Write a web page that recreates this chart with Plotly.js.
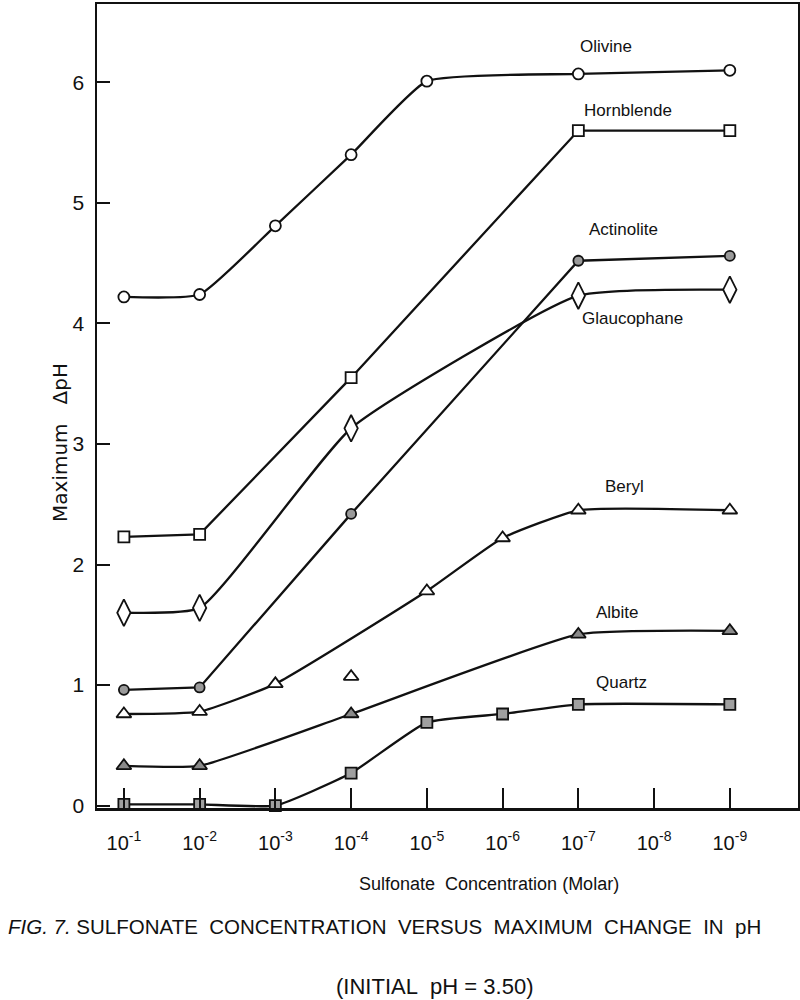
<!DOCTYPE html>
<html>
<head>
<meta charset="utf-8">
<script src="https://cdn.plot.ly/plotly-3.0.1.min.js"></script>
<style>
  html, body { margin: 0; padding: 0; background: #ffffff; }
  #chart { width: 800px; height: 1000px; }
</style>
</head>
<body>
<div id="chart"></div>
<script>
// Sulfonate concentration exponent (10^-n), n = 1..9
const concExp = [1, 2, 3, 4, 5, 6, 7, 8, 9];
const concLabels = ["10<sup>-1</sup>", "10<sup>-2</sup>", "10<sup>-3</sup>", "10<sup>-4</sup>", "10<sup>-5</sup>",
                    "10<sup>-6</sup>", "10<sup>-7</sup>", "10<sup>-8</sup>", "10<sup>-9</sup>"];

// Maximum delta pH per mineral
const olivineX = [1, 2, 3, 4, 5, 7, 9];
const olivineY = [4.22, 4.24, 4.81, 5.40, 6.01, 6.07, 6.10];

const hornblendeX = [1, 2, 4, 7, 9];
const hornblendeY = [2.23, 2.25, 3.55, 5.60, 5.60];

const actinoliteX = [1, 2, 4, 7, 9];
const actinoliteY = [0.96, 0.98, 2.42, 4.52, 4.56];

const glaucophaneX = [1, 2, 4, 7, 9];
const glaucophaneY = [1.60, 1.64, 3.13, 4.23, 4.28];

const berylX = [1, 2, 3, 5, 6, 7, 9];
const berylY = [0.76, 0.78, 1.01, 1.78, 2.22, 2.45, 2.45];
const berylOffX = [4];
const berylOffY = [1.07];

const albiteX = [1, 2, 4, 7, 9];
const albiteY = [0.33, 0.33, 0.76, 1.42, 1.45];

const quartzX = [1, 2, 3, 4, 5, 6, 7, 9];
const quartzY = [0.01, 0.01, 0.00, 0.27, 0.69, 0.76, 0.84, 0.84];

const yTicks = [0, 1, 2, 3, 4, 5, 6];

const FONT = "'Liberation Sans', Arial, sans-serif";

function series(name, xs, ys, symbol, size, fill, shape) {
  return {
    type: 'scatter', mode: 'lines+markers', name: name,
    x: xs, y: ys,
    line: { color: '#111', width: 2.3, shape: shape || 'spline', smoothing: 0.45 },
    marker: { symbol: symbol, size: size, color: fill, line: { color: '#111', width: 1.8 } },
    cliponaxis: false
  };
}

const traces = [
  series('Olivine', olivineX, olivineY, 'circle', 11, '#ffffff'),
  series('Hornblende', hornblendeX, hornblendeY, 'square', 11, '#ffffff', 'linear'),
  series('Actinolite', actinoliteX, actinoliteY, 'circle', 10, '#9a9a9a', 'linear'),
  series('Glaucophane', glaucophaneX, glaucophaneY, 'diamond-tall', 19, '#ffffff'),
  series('Beryl', berylX, berylY, 'triangle-up', 13, '#ffffff'),
  {
    type: 'scatter', mode: 'markers', name: 'Beryl (off-curve)',
    x: berylOffX, y: berylOffY,
    marker: { symbol: 'triangle-up', size: 13, color: '#ffffff', line: { color: '#111', width: 1.8 } }
  },
  series('Albite', albiteX, albiteY, 'triangle-up', 13, '#8a8a8a'),
  series('Quartz', quartzX, quartzY, 'square', 11, '#a0a0a0')
];

const labelText = ['Olivine', 'Hornblende', 'Actinolite', 'Glaucophane', 'Beryl', 'Albite', 'Quartz'];
const labelX = [7.36, 7.65, 7.59, 7.72, 7.61, 7.52, 7.57];
const labelY = [6.30, 5.77, 4.78, 4.04, 2.65, 1.60, 1.02];

const annotations = labelText.map((t, i) => ({
  text: t, x: labelX[i], y: labelY[i], xref: 'x', yref: 'y',
  showarrow: false, font: { family: FONT, size: 17, color: '#111' }
}));

const NB = '\u00A0';
annotations.push({
  text: 'Maximum' + NB + NB + NB + 'ΔpH', xref: 'paper', yref: 'paper',
  x: (60 - 97) / 701, y: (808 - 443) / 804, xanchor: 'center', yanchor: 'middle',
  textangle: -90, showarrow: false,
  font: { family: "'DejaVu Sans', sans-serif", size: 20, color: '#111' }
});
annotations.push({
  text: 'Sulfonate' + NB + NB + 'Concentration (Molar)', xref: 'paper', yref: 'paper',
  x: (489 - 97) / 701, y: (808 - 884) / 804, xanchor: 'center', yanchor: 'middle',
  showarrow: false, font: { family: FONT, size: 18, color: '#111' }
});
annotations.push({
  text: '<i>FIG. 7.</i> SULFONATE' + NB + NB + 'CONCENTRATION' + NB + NB + 'VERSUS' + NB + NB + 'MAXIMUM' + NB + NB + 'CHANGE' + NB + NB + 'IN' + NB + NB + 'pH',
  xref: 'paper', yref: 'paper',
  x: (384 - 97) / 701, y: (808 - 926) / 804, xanchor: 'center', yanchor: 'middle',
  showarrow: false, font: { family: FONT, size: 20.5, color: '#111' }
});
annotations.push({
  text: '(INITIAL' + NB + ' pH = 3.50)',
  xref: 'paper', yref: 'paper',
  x: (434 - 97) / 701, y: (808 - 986) / 804, xanchor: 'center', yanchor: 'middle',
  showarrow: false, font: { family: FONT, size: 22, color: '#111' }
});

const layout = {
  width: 800, height: 1000,
  margin: { l: 97, r: 2, t: 4, b: 192 },
  paper_bgcolor: '#ffffff', plot_bgcolor: '#ffffff',
  showlegend: false,
  font: { family: FONT, color: '#111' },
  xaxis: {
    range: [0.645, 9.9], tickmode: 'array', tickvals: concExp, ticktext: concLabels,
    ticks: 'inside', ticklen: 20, tickwidth: 2, tickcolor: '#111',
    showline: true, linecolor: '#111', linewidth: 2.5, mirror: true,
    showgrid: false, zeroline: false,
    tickfont: { family: FONT, size: 20, color: '#111' }, ticklabelstandoff: 15
  },
  yaxis: {
    range: [-0.02, 6.65], tickmode: 'array', tickvals: yTicks,
    ticks: 'inside', ticklen: 13, tickwidth: 2, tickcolor: '#111',
    showline: true, linecolor: '#111', linewidth: 2.5, mirror: true,
    showgrid: false, zeroline: false,
    tickfont: { family: FONT, size: 21, color: '#111' }, ticklabelstandoff: 6
  },
  annotations: annotations
};

Plotly.newPlot('chart', traces, layout, { displayModeBar: false, staticPlot: true });
</script>
</body>
</html>
